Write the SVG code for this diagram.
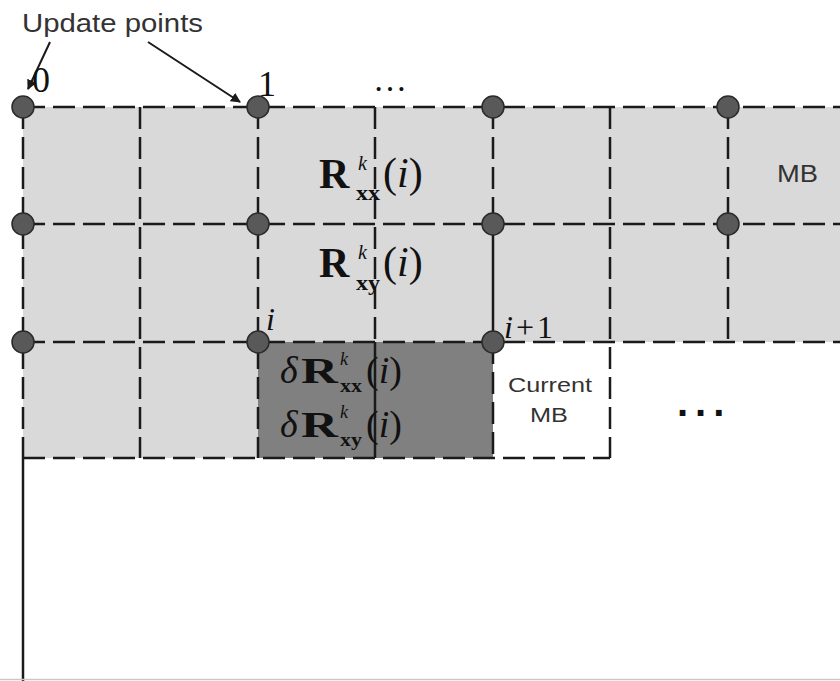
<svg xmlns="http://www.w3.org/2000/svg" width="840" height="681" viewBox="0 0 840 681">
  <defs>
    <marker id="arrowHead" viewBox="0 0 10 10" refX="9" refY="5" markerWidth="5" markerHeight="5" orient="auto" markerUnits="strokeWidth">
      <path d="M0,0 L10,5 L0,10 z" fill="#1a1a1a"/>
    </marker>
  </defs>
  <style>
    .grid { stroke: #1a1a1a; stroke-width: 2.5; fill: none; stroke-dasharray: 22 8; }
    .solid { stroke: #1a1a1a; stroke-width: 2.5; fill: none; }
    .pt { fill: #595959; stroke: #2a2a2a; stroke-width: 1.5; }
    .sans { font-family: "Liberation Sans", Arial, sans-serif; fill: #333; }
    .math { font-family: "Liberation Serif", "Times New Roman", serif; fill: #111; }
    .b { font-weight: bold; }
    .it { font-style: italic; }
    .arrow { stroke: #1a1a1a; stroke-width: 2; fill: none; marker-end: url(#arrowHead); }
  </style>

  <rect width="840" height="681" fill="#ffffff"/>

  <!-- cell fills -->
  <g id="fills">
    <rect x="23" y="107" width="817" height="235" fill="#d9d9d9"/>
    <rect x="23" y="342" width="235" height="116" fill="#d9d9d9"/>
    <rect id="processed" x="258" y="342" width="235" height="116" fill="#808080"/>
    <rect id="current-mb" x="493" y="342" width="117" height="116" fill="#ffffff"/>
  </g>

  <!-- macroblock grid -->
  <g id="grid">
    <line class="grid" x1="23" y1="107" x2="840" y2="107"/>
    <line class="grid" x1="23" y1="224" x2="840" y2="224"/>
    <line class="grid" x1="23" y1="342" x2="840" y2="342"/>
    <line class="grid" x1="23" y1="458" x2="610" y2="458"/>
    <line class="grid" x1="23" y1="107" x2="23" y2="458"/>
    <line class="grid" x1="140" y1="107" x2="140" y2="458"/>
    <line class="grid" x1="258" y1="107" x2="258" y2="458"/>
    <line class="grid" x1="375" y1="107" x2="375" y2="342"/>
    <line class="solid" x1="375" y1="342" x2="375" y2="458"/>
    <line class="grid" x1="493" y1="107" x2="493" y2="224"/>
    <line class="solid" x1="493" y1="224" x2="493" y2="342"/>
    <line class="grid" x1="493" y1="342" x2="493" y2="458"/>
    <line class="grid" x1="610" y1="107" x2="610" y2="458"/>
    <line class="grid" x1="728" y1="107" x2="728" y2="342"/>
    <line class="solid" x1="23" y1="458" x2="23" y2="681"/>
    <line x1="0" y1="679.5" x2="840" y2="679.5" stroke="#c8c8c8" stroke-width="1.5"/>
  </g>

  <!-- update points -->
  <g id="points">
    <circle class="pt" cx="23" cy="107" r="11"/>
    <circle class="pt" cx="258" cy="107" r="11"/>
    <circle class="pt" cx="493" cy="107" r="11"/>
    <circle class="pt" cx="728" cy="107" r="11"/>
    <circle class="pt" cx="23" cy="224" r="11"/>
    <circle class="pt" cx="258" cy="224" r="11"/>
    <circle class="pt" cx="493" cy="224" r="11"/>
    <circle class="pt" cx="728" cy="224" r="11"/>
    <circle class="pt" cx="23" cy="342" r="11"/>
    <circle class="pt" cx="258" cy="342" r="11"/>
    <circle class="pt" cx="493" cy="342" r="11"/>
  </g>

  <!-- connectors -->
  <g id="connectors">
    <line class="arrow" x1="50" y1="42" x2="28" y2="89"/>
    <line class="arrow" x1="148" y1="42" x2="240" y2="102"/>
  </g>

  <!-- labels -->
  <g id="label-update">
    <text class="sans" x="22" y="32" font-size="25" textLength="181" lengthAdjust="spacingAndGlyphs">Update points</text>
  </g>
  <g id="index-labels" class="math">
    <text x="32" y="92" font-size="36">0</text>
    <text x="258" y="96" font-size="36">1</text>
    <text x="373" y="91" font-size="34">…</text>
    <text class="it" x="266" y="330" font-size="32">i</text>
    <text class="it" x="504" y="338" font-size="32">i</text>
    <text x="516" y="338" font-size="32">+</text>
    <text x="537" y="338" font-size="32">1</text>
  </g>

  <g id="formula-rxx" class="math">
    <text class="b" x="319" y="188" font-size="42">R</text>
    <text class="b" x="356" y="200" font-size="20" textLength="24" lengthAdjust="spacingAndGlyphs">xx</text>
    <text class="it" x="358" y="170" font-size="20">k</text>
    <text x="383" y="187" font-size="42">(<tspan class="it">i</tspan>)</text>
  </g>
  <g id="formula-rxy" class="math">
    <text class="b" x="319" y="277" font-size="42">R</text>
    <text class="b" x="356" y="290" font-size="20" textLength="24" lengthAdjust="spacingAndGlyphs">xy</text>
    <text class="it" x="358" y="259" font-size="20">k</text>
    <text x="383" y="276" font-size="42">(<tspan class="it">i</tspan>)</text>
  </g>
  <g id="formula-drxx" class="math">
    <text class="it" x="280" y="383" font-size="38">δ</text>
    <text class="b" x="301" y="383" font-size="36" textLength="37" lengthAdjust="spacingAndGlyphs">R</text>
    <text class="b" x="340" y="392" font-size="18" textLength="22" lengthAdjust="spacingAndGlyphs">xx</text>
    <text class="it" x="340" y="365" font-size="18">k</text>
    <text x="366" y="383" font-size="38">(<tspan class="it">i</tspan>)</text>
  </g>
  <g id="formula-drxy" class="math">
    <text class="it" x="280" y="437" font-size="38">δ</text>
    <text class="b" x="301" y="437" font-size="36" textLength="37" lengthAdjust="spacingAndGlyphs">R</text>
    <text class="b" x="340" y="446" font-size="18" textLength="22" lengthAdjust="spacingAndGlyphs">xy</text>
    <text class="it" x="340" y="418" font-size="18">k</text>
    <text x="366" y="437" font-size="38">(<tspan class="it">i</tspan>)</text>
  </g>

  <g id="label-mb">
    <text class="sans" x="777" y="182" font-size="23" textLength="41" lengthAdjust="spacingAndGlyphs">MB</text>
  </g>
  <g id="label-current">
    <text class="sans" x="508" y="392" font-size="20" textLength="84" lengthAdjust="spacingAndGlyphs">Current</text>
    <text class="sans" x="530" y="422" font-size="20" textLength="38" lengthAdjust="spacingAndGlyphs">MB</text>
  </g>
  <g id="label-more">
    <text x="677" y="416" font-family="Liberation Sans, Arial, sans-serif" font-weight="bold" font-size="40" letter-spacing="7" fill="#111">...</text>
  </g>
</svg>
